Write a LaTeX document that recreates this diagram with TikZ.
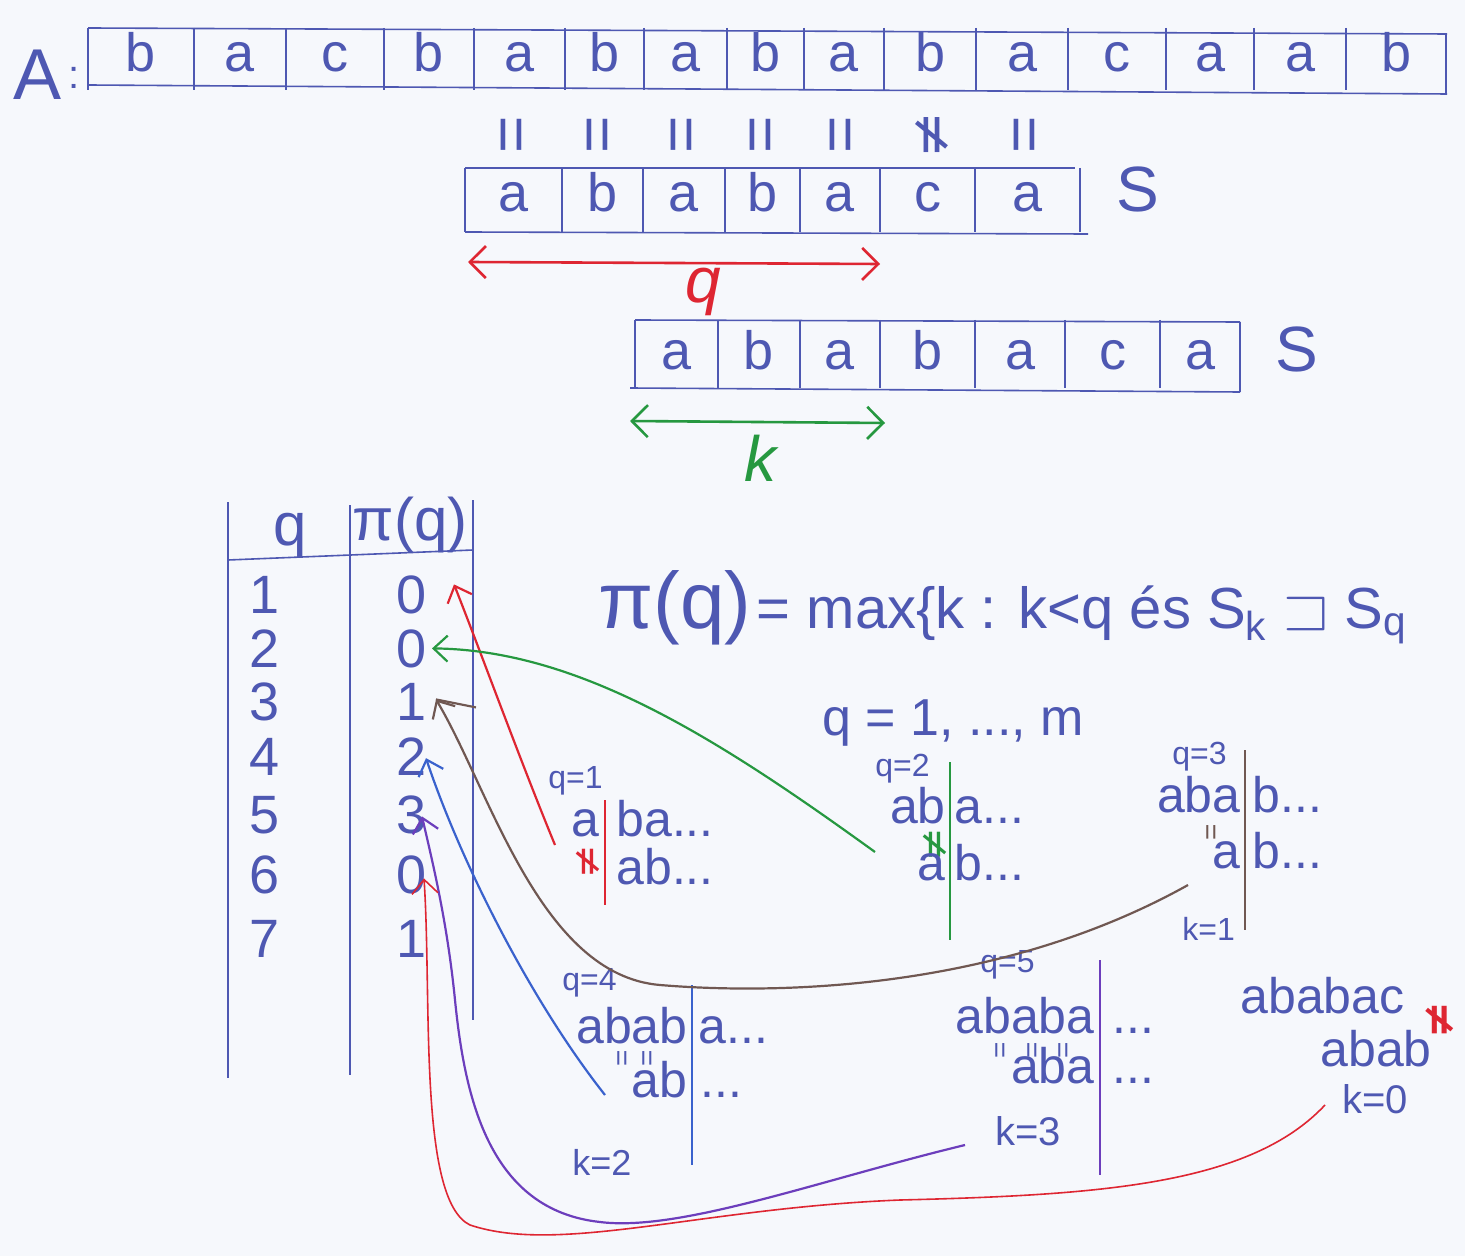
\documentclass[tikz,border=0pt]{standalone}
\usepackage{fontspec}
\setmainfont{Liberation Sans}
\newfontfamily\symf{DejaVu Sans}
\usepackage{amssymb}
\usetikzlibrary{arrows.meta,calc}
\definecolor{paper}{RGB}{246,248,252}
\definecolor{ink}{RGB}{78,88,178}
\definecolor{redink}{RGB}{222,38,50}
\definecolor{greenink}{RGB}{38,152,64}
\definecolor{brownink}{RGB}{112,88,82}
\definecolor{blueink}{RGB}{58,98,205}
\definecolor{purpleink}{RGB}{108,62,188}
\begin{document}
\begin{tikzpicture}[x=0.5pt,y=-0.5pt,
  boxl/.style={draw=ink,line width=0.8pt},
  letter/.style={text=ink,font=\fontsize{27}{27}\selectfont,inner sep=0pt,anchor=base},
  big/.style={text=ink,font=\fontsize{32}{32}\selectfont,inner sep=0pt,anchor=base},
  num/.style={text=ink,font=\fontsize{27}{27}\selectfont,inner sep=0pt,anchor=base},
  ex/.style={text=ink,font=\fontsize{25}{25}\selectfont,inner sep=0pt},
  small/.style={text=ink,font=\fontsize{16}{16}\selectfont,inner sep=0pt,anchor=base west},
  eqv/.style={rotate=90,font=\fontsize{32}{32}\selectfont,inner sep=0pt,text=ink},
  neqv/.style={rotate=90,font=\fontsize{28}{28}\symf,inner sep=0pt,text=ink},
  mini/.style={rotate=90,font=\fontsize{14}{14}\selectfont,inner sep=0pt,text=ink},
  tip/.style={-{Straight Barb[length=7pt,width=13pt]}},
  pen/.style={line width=1.1pt}
]
\path[fill=paper] (0,0) rectangle (1465,1256);
\useasboundingbox (0,0) rectangle (1465,1256);

% ---------- array A ----------
\node[big,font=\fontsize{36}{36}\selectfont] (Alab) at (38,100) {A};
\node[text=ink,font=\fontsize{20}{20}\selectfont,inner sep=0pt] (Acol) at (74,78) {:};
\draw[boxl] (88,28) -- (1447,34);
\draw[boxl] (88,85) -- (1447,94);
\foreach \l/\r/\c [count=\i] in {88/194/b,194/286/a,286/384/c,384/474/b,474/565/a,565/644/b,644/727/a,727/804/b,804/884/a,884/976/b,976/1068/a,1068/1166/c,1166/1254/a,1254/1346/a,1346/1446/b}{
  \draw[boxl] (\l,28) -- (\l,90);
  \node[letter] (A\i) at ({(\l+\r)/2},72) {\c};
}
\draw[boxl] (1446,34) -- (1446,94);

% comparison marks
\foreach \x [count=\i] in {517,603,687,766,846,1030}{
  \node[eqv] (e\i) at (\x,135) {=};
}
\node[neqv] (ne1) at (932,135) {≠};

% ---------- S (first) ----------
\draw[boxl] (465,168) -- (1075,168);
\draw[boxl] (465,232) -- (1088,234);
\foreach \l/\r/\c [count=\i] in {465/562/a,562/643/b,643/725/a,725/800/b,800/880/a,880/975/c,975/1080/a}{
  \draw[boxl] (\l,168) -- (\l,232);
  \node[letter] (S\i) at ({(\l+\r)/2},212) {\c};
}
\draw[boxl] (1080,168) -- (1080,232);
\node[big] (Slab1) at (1138,212) {S};

\draw[redink,line width=1.3pt,{Straight Barb[length=8pt,width=16pt]}-{Straight Barb[length=8pt,width=16pt]}] (468,262) -- (880,264);
\node[text=redink,font=\fontsize{32}{32}\itshape,inner sep=0pt] (qlab) at (703,292) {q};

% ---------- S (second) ----------
\draw[boxl] (635,320) -- (1240,322);
\draw[boxl] (630,388) -- (1240,392);
\foreach \l/\r/\c [count=\i] in {635/718/a,718/800/b,800/880/a,880/975/b,975/1065/a,1065/1160/c,1160/1240/a}{
  \draw[boxl] (\l,320) -- (\l,388);
  \node[letter] (T\i) at ({(\l+\r)/2},370) {\c};
}
\draw[boxl] (1240,322) -- (1240,392);
\node[big] (Slab2) at (1297,372) {S};

\draw[greenink,line width=1.3pt,{Straight Barb[length=8pt,width=16pt]}-{Straight Barb[length=8pt,width=16pt]}] (630,421) -- (885,423);
\node[text=greenink,font=\fontsize{32}{32}\itshape,inner sep=0pt] (klab) at (760,458) {k};

% ---------- table ----------
\draw[boxl] (228,502) -- (228,1078);
\draw[boxl] (350,505) -- (350,1075);
\draw[boxl] (473,500) -- (473,1020);
\draw[boxl] (228,560) -- (473,550);
\node[num,font=\fontsize{30}{30}\selectfont] (hq) at (290,545) {q};
\node[num,font=\fontsize{30}{30}\selectfont] (hp) at (410,540) {π(q)};
\foreach \q/\v/\y [count=\i] in {1/0/613,2/0/667,3/1/720,4/2/775,5/3/833,6/0/893,7/1/957}{
  \node[num] (q\i) at (265,\y) {\q};
  \node[num] (p\i) at (412,\y) {\v};
}

% ---------- formula ----------
\node[text=ink,inner sep=0pt,anchor=base west] (form) at (598,628)
  {{\fontsize{40}{40}\selectfont π(q)} {\fontsize{29}{29}\selectfont = max\{k : k<q és S\textsubscript{k} $\sqsupset$ S\textsubscript{q}}};
\node[text=ink,font=\fontsize{26}{26}\selectfont,inner sep=0pt,anchor=base west] (qrange) at (822,735) {q = 1, ..., m};

% ---------- q=1 ----------
\node[small] (l1) at (548,788) {q=1};
\node[ex,anchor=base east] (a1) at (600,836) {a};
\node[ex,anchor=base west] (b1) at (616,836) {ba...};
\node[neqv,text=redink,font=\fontsize{20}{20}\symf] (n1) at (588,862) {≠};
\node[ex,anchor=base west] (c1) at (616,884) {ab...};
\draw[redink,pen] (605,800) -- (605,905);

% ---------- q=2 ----------
\node[small] (l2) at (875,776) {q=2};
\node[ex,anchor=base east] (a2) at (946,823) {ab};
\node[ex,anchor=base west] (b2) at (954,823) {a...};
\node[neqv,text=greenink,font=\fontsize{20}{20}\symf] (n2) at (935,845) {≠};
\node[ex,anchor=base east] (c2) at (946,880) {a};
\node[ex,anchor=base west] (d2) at (954,880) {b...};
\draw[greenink,pen] (950,762) -- (950,940);

% ---------- q=3 ----------
\node[small] (l3) at (1172,764) {q=3};
\node[ex,anchor=base east] (a3) at (1241,812) {aba};
\node[ex,anchor=base west] (b3) at (1252,812) {b...};
\node[mini,text=brownink] (n3) at (1214,832) {=};
\node[ex,anchor=base east] (c3) at (1241,868) {a};
\node[ex,anchor=base west] (d3) at (1252,868) {b...};
\draw[brownink,pen] (1245,750) -- (1245,930);
\node[small] (k3) at (1182,940) {k=1};

% ---------- q=4 ----------
\node[small] (l4) at (562,990) {q=4};
\node[ex,anchor=base east] (a4) at (688,1043) {abab};
\node[ex,anchor=base west] (b4) at (698,1043) {a...};
\node[mini] (n4a) at (625,1058) {=};
\node[mini] (n4b) at (650,1058) {=};
\node[ex,anchor=base east] (c4) at (688,1097) {ab};
\node[ex,anchor=base west] (d4) at (700,1097) {...};
\draw[blueink,pen] (692,985) -- (692,1165);
\node[small,font=\fontsize{18}{18}\selectfont] (k4) at (572,1175) {k=2};

% ---------- q=5 ----------
\node[small] (l5) at (980,972) {q=5};
\node[ex,anchor=base east] (a5) at (1095,1033) {ababa};
\node[ex,anchor=base west] (b5) at (1112,1033) {...};
\node[mini] (n5a) at (1003,1050) {=};
\node[mini] (n5b) at (1035,1050) {=};
\node[mini] (n5c) at (1066,1050) {=};
\node[ex,anchor=base east] (c5) at (1095,1083) {aba};
\node[ex,anchor=base west] (d5) at (1112,1083) {...};
\draw[purpleink,pen] (1100,960) -- (1100,1175);
\node[small,font=\fontsize{20}{20}\selectfont] (k5) at (995,1145) {k=3};

% ---------- q=6 ----------
\node[ex,anchor=base west] (a6) at (1240,1013) {ababac};
\node[ex,anchor=base west] (c6) at (1320,1066) {abab};
\node[text=redink,font=\fontsize{22}{22}\symf\bfseries,inner sep=0pt,rotate=90] (n6) at (1440,1020) {≠};
\node[small,font=\fontsize{20}{20}\selectfont] (k6) at (1342,1113) {k=0};

% ---------- connectors ----------
\coordinate (s1) at (555,845);
\coordinate (s2) at (875,852);
\coordinate (s3) at (1188,885);
\coordinate (s4) at (605,1095);
\coordinate (s5) at (965,1145);
\coordinate (s6) at (1325,1105);

\draw[redink,pen,tip] (s1) .. controls (520,760) and (480,650) .. ($(p1)+(42,-10)$);
\draw[greenink,pen,tip] (s2) .. controls (720,740) and (580,650) .. ($(p2)+(20,0)$);
\draw[brownink,pen,tip] (s3) .. controls (1000,990) and (780,995) .. (660,985)
   .. controls (540,975) and (490,790) .. ($(p3)+(24,-2)$);
\draw[brownink,pen] ($(p3)+(24,-2)$) -- ($(p3)+(64,6)$);
\draw[blueink,pen,tip] (s4) .. controls (530,1000) and (460,860) .. ($(p4)+(14,2)$);
\draw[purpleink,pen,tip] (s5) .. controls (820,1180) and (680,1232) .. (600,1222)
   .. controls (490,1210) and (465,1100) .. (455,1000)
   .. controls (447,920) and (432,860) .. ($(p5)+(10,2)$);
\draw[redink,line width=0.8pt,tip] (s6) .. controls (1250,1185) and (1100,1195) .. (900,1200)
   .. controls (700,1208) and (560,1255) .. (470,1225)
   .. controls (418,1200) and (432,1000) .. ($(p6)+(12,4)$);
\end{tikzpicture}
\end{document}
